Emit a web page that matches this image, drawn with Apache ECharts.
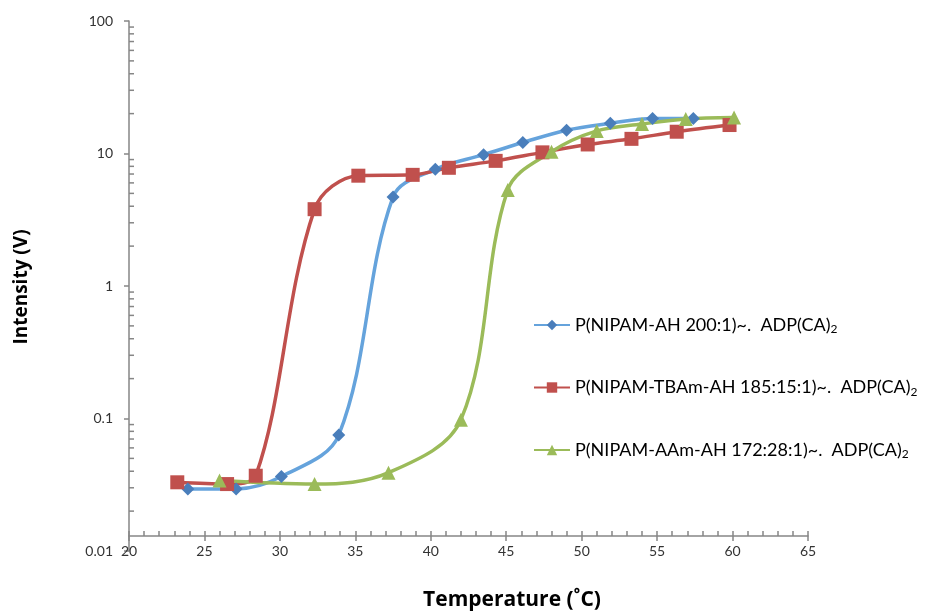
<!DOCTYPE html>
<html>
<head>
<meta charset="utf-8">
<script src="https://cdn.jsdelivr.net/npm/echarts@6/dist/echarts.min.js"></script>
<style>
  html, body { margin: 0; padding: 0; background: #fff; }
  #chart { width: 930px; height: 612px; }
</style>
</head>
<body>
<div id="chart"></div>
<script>
// temperatures (°C) and intensities (V)
var tempAH = [23.9, 27.1, 30.1, 33.9, 37.5, 40.3, 43.5, 46.1, 49.0, 51.9, 54.7, 57.4];
var valAH = [0.0294, 0.0294, 0.0365, 0.075, 4.7, 7.6, 9.8, 12.1, 15.0, 16.9, 18.4, 18.4];

var tempTBAm = [23.2, 26.5, 28.4, 32.3, 35.2, 38.8, 41.2, 44.3, 47.4, 50.4, 53.3, 56.3, 59.8];
var valTBAm = [0.033, 0.032, 0.037, 3.8, 6.8, 6.9, 7.8, 8.8, 10.2, 11.7, 12.9, 14.6, 16.4];

var tempAAm = [26.0, 32.3, 37.2, 42.0, 45.1, 48.0, 51.0, 54.0, 56.9, 60.1];
var valAAm = [0.034, 0.032, 0.039, 0.098, 5.3, 10.3, 14.8, 16.7, 18.2, 18.7];

var names = [
    'P(NIPAM-AH 200:1)~.  ADP(CA)',
    'P(NIPAM-TBAm-AH 185:15:1)~.  ADP(CA)',
    'P(NIPAM-AAm-AH 172:28:1)~.  ADP(CA)'
];

function pairs(xs, ys) {
    var out = [];
    for (var i = 0; i < xs.length; i++) out.push([xs[i], ys[i]]);
    return out;
}

// minor ticks of the log axis: 2..9 of every decade
var minorY = [];
for (var e = -2; e < 2; e++) {
    for (var k = 2; k <= 9; k++) minorY.push([20, +(k * Math.pow(10, e)).toPrecision(2)]);
}

var font = 'Lato, "Liberation Sans", sans-serif';
var titleFont = '"Open Sans", Lato, sans-serif';
var axisGray = '#868686';

var myChart = echarts.init(document.getElementById('chart'));
myChart.setOption({
    animation: false,
    grid: { left: 129, right: 122, top: 21, bottom: 61 },
    legend: {
        orient: 'vertical',
        left: 533,
        top: 316,
        padding: 0,
        itemWidth: 36,
        itemHeight: 13,
        itemGap: 43,
        data: names,
        formatter: function (name) {
            return '{a|' + name + '}{s|2}';
        },
        textStyle: {
            rich: {
                a: { fontFamily: font, fontSize: 18, color: '#000' },
                s: { fontFamily: font, fontSize: 12, color: '#000', padding: [9, 0, 0, 0] }
            }
        }
    },
    graphic: [{
        type: 'text',
        x: 512,
        y: 600,
        style: {
            text: 'Temperature (˚C)', fontFamily: titleFont, fontWeight: 'bold', fontSize: 21,
            fill: '#000', align: 'center', verticalAlign: 'middle'
        }
    }, {
        type: 'text',
        x: 22,
        y: 287,
        rotation: Math.PI / 2,
        style: {
            text: 'Intensity (V)', fontFamily: titleFont, fontWeight: 'bold', fontSize: 19,
            fill: '#000', align: 'center', verticalAlign: 'middle'
        }
    }],
    xAxis: [{
        type: 'value',
        min: 20,
        max: 65,
        interval: 5,
        offset: -15,
        splitLine: { show: false },
        axisLine: { onZero: false, lineStyle: { color: axisGray, width: 1.5 } },
        axisTick: { inside: false, length: 5, lineStyle: { color: axisGray, width: 1.5 } },
        axisLabel: { margin: 8, fontFamily: font, fontSize: 14, color: '#333' }
    }, {
        type: 'value',
        position: 'bottom',
        min: 20,
        max: 65,
        interval: 1,
        offset: -15,
        splitLine: { show: false },
        axisLine: { show: false, onZero: false },
        axisTick: { show: true, inside: true, length: 5, lineStyle: { color: axisGray, width: 1.5 } },
        axisLabel: { show: false }
    }],
    yAxis: {
        type: 'log',
        logBase: 10,
        min: 0.01,
        max: 100,
        splitLine: { show: false },
        axisLine: { onZero: false, lineStyle: { color: axisGray, width: 1.5 } },
        axisTick: { inside: false, length: 5, lineStyle: { color: axisGray, width: 1.5 } },
        axisLabel: {
            margin: 16,
            fontFamily: font,
            fontSize: 14,
            color: '#333',
            formatter: function (v) { return String(+v.toPrecision(3)); }
        }
    },
    series: [{
        name: 'minorTicks',
        type: 'custom',
        clip: false,
        xAxisIndex: 0,
        yAxisIndex: 0,
        renderItem: function (params, api) {
            var p = api.coord([api.value(0), api.value(1)]);
            return {
                type: 'line',
                shape: { x1: p[0], y1: p[1], x2: p[0] + 5, y2: p[1] },
                style: { stroke: axisGray, lineWidth: 1.5 }
            };
        },
        data: minorY
    }, {
        name: names[0],
        type: 'line',
        smooth: 0.35,
        symbol: 'diamond',
        symbolSize: 13,
        itemStyle: { color: '#4a7ebb' },
        lineStyle: { color: '#65a3dc', width: 3.5 },
        data: pairs(tempAH, valAH)
    }, {
        name: names[1],
        type: 'line',
        smooth: 0.35,
        symbol: 'rect',
        symbolSize: 14,
        itemStyle: { color: '#c0504d' },
        lineStyle: { color: '#c0504d', width: 3.5 },
        data: pairs(tempTBAm, valTBAm)
    }, {
        name: names[2],
        type: 'line',
        smooth: 0.35,
        symbol: 'triangle',
        symbolSize: 14,
        itemStyle: { color: '#9bbb59' },
        lineStyle: { color: '#9bbb59', width: 3.5 },
        data: pairs(tempAAm, valAAm)
    }]
});
</script>
</body>
</html>
